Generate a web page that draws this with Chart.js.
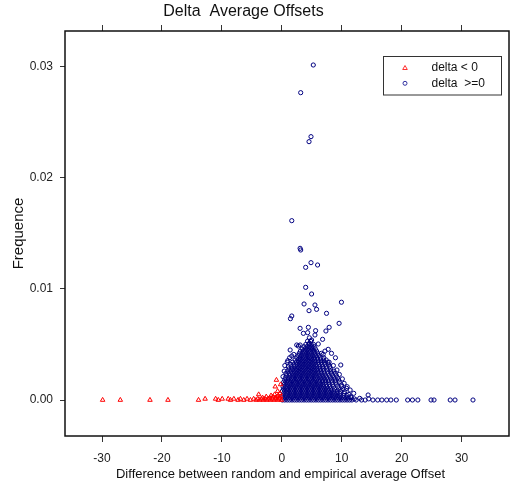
<!DOCTYPE html>
<html>
<head>
<meta charset="utf-8">
<script src="https://cdn.jsdelivr.net/npm/chart.js@4/dist/chart.umd.min.js"></script>
<style>
  html, body { margin: 0; padding: 0; background: #fff; }
  #grafico { display: block; }
</style>
</head>
<body>
<canvas id="grafico" width="514" height="481"></canvas>
<script>
const FONTE = "'Liberation Sans', Arial, Helvetica, sans-serif";

const ticksX = [-30, -20, -10, 0, 10, 20, 30];
const ticksY = [0, 0.01, 0.02, 0.03];

const titulo = "Delta  Average Offsets";
const tituloX = "Difference between random and empirical average Offset";
const tituloY = "Frequence";
const rotulos = ["delta < 0", "delta  >=0"];

// delta < 0 (triangulos vermelhos)
const pontosNegativos = [
  [-29.9, 0], [-26.95, 0], [-22.0, 0], [-19.0, 0], [-13.9, 0], [-12.8, 0.0001],
  [-11.05, 0.0001], [-10.6, 0], [-9.95, 0.0001], [-8.95, 0.0001], [-8.56, 0], [-8.0, 0.0001],
  [-7.3, 0], [-6.9, 0.0001], [-6.35, 0], [-5.8, 0.0001], [-5.24, 0], [-4.7, 0.0001],
  [-4.3, 0], [-4.0, 0.0001], [-3.7, 0], [-3.4, 0.0001], [-3.1, 0], [-2.8, 0.0001],
  [-2.5, 0], [-2.2, 0.0001], [-1.9, 0], [-1.6, 0.0001], [-1.3, 0], [-1.0, 0.0001],
  [-0.7, 0], [-0.4, 0.0001], [-0.1, 0],
  [-3.2, 0.0002], [-2.6, 0.0003], [-2.0, 0.0002], [-1.5, 0.0003], [-1.1, 0.0002],
  [-0.8, 0.0003], [-0.5, 0.0002], [-0.2, 0.0003],
  [-1.8, 0.0004], [-1.2, 0.0005], [-0.6, 0.0004], [-0.3, 0.0006],
  [-3.86, 0.0005], [-0.7, 0.0008], [-1.1, 0.0012], [-0.9, 0.0018], [-0.2, 0.0014]
];

// delta >= 0 (circulos azuis)
const pontosPositivos = [
  [0.1, 0], [0.5, 0], [0.9, 0], [1.3, 0], [1.7, 0], [2.1, 0], [2.5, 0], [2.9, 0], [3.3, 0], [3.7, 0],
  [4.1, 0], [4.5, 0], [4.9, 0], [5.3, 0], [5.7, 0], [6.1, 0], [6.5, 0], [6.9, 0], [7.3, 0], [7.7, 0],
  [8.1, 0], [8.5, 0], [8.9, 0], [9.3, 0], [9.7, 0], [10.1, 0], [10.5, 0], [10.9, 0], [11.3, 0], [11.7, 0],

  [0.3, 0.0002], [0.7, 0.0002], [1.1, 0.0002], [1.5, 0.0002], [1.9, 0.0002], [2.3, 0.0002], [2.7, 0.0002],
  [3.1, 0.0002], [3.5, 0.0002], [3.9, 0.0002], [4.3, 0.0002], [4.7, 0.0002], [5.1, 0.0002], [5.5, 0.0002],
  [5.9, 0.0002], [6.3, 0.0002], [6.7, 0.0002], [7.1, 0.0002], [7.5, 0.0002], [7.9, 0.0002], [8.3, 0.0002],
  [8.7, 0.0002], [9.1, 0.0002], [9.5, 0.0002], [9.9, 0.0002], [10.3, 0.0002], [10.7, 0.0002], [11.1, 0.0002],
  [11.6, 0.0002], [12.1, 0.0001],

  [0.1, 0.0004], [0.6, 0.0004], [1.0, 0.0004], [1.4, 0.0004], [1.8, 0.0004], [2.2, 0.0004], [2.6, 0.0004],
  [3.0, 0.0004], [3.4, 0.0004], [3.8, 0.0004], [4.2, 0.0004], [4.6, 0.0004], [5.0, 0.0004], [5.4, 0.0004],
  [5.8, 0.0004], [6.2, 0.0004], [6.6, 0.0004], [7.0, 0.0004], [7.4, 0.0004], [7.8, 0.0004], [8.2, 0.0004],
  [8.6, 0.0004], [9.0, 0.0004], [9.4, 0.0004], [9.8, 0.0004], [10.3, 0.0004], [10.9, 0.0004], [11.5, 0.0003],

  [0.3, 0.0006], [0.8, 0.0006], [1.2, 0.0006], [1.6, 0.0006], [2.0, 0.0006], [2.4, 0.0006], [2.8, 0.0006],
  [3.2, 0.0006], [3.6, 0.0006], [4.0, 0.0006], [4.4, 0.0006], [4.8, 0.0006], [5.2, 0.0006], [5.6, 0.0006],
  [6.0, 0.0006], [6.4, 0.0006], [6.8, 0.0006], [7.2, 0.0006], [7.6, 0.0006], [8.0, 0.0006], [8.4, 0.0006],
  [8.8, 0.0006], [9.2, 0.0006], [9.7, 0.0006], [10.4, 0.0006], [11.2, 0.0005],

  [0.1, 0.0008], [0.5, 0.0008], [1.0, 0.0008], [1.4, 0.0008], [1.8, 0.0008], [2.2, 0.0008], [2.6, 0.0008],
  [3.0, 0.0008], [3.4, 0.0008], [3.8, 0.0008], [4.2, 0.0008], [4.6, 0.0008], [5.0, 0.0008], [5.4, 0.0008],
  [5.8, 0.0008], [6.2, 0.0008], [6.6, 0.0008], [7.0, 0.0008], [7.4, 0.0008], [7.8, 0.0008], [8.2, 0.0008],
  [8.7, 0.0008], [9.2, 0.0008], [9.8, 0.0008], [10.5, 0.00075],

  [0.3, 0.001], [0.8, 0.001], [1.2, 0.001], [1.6, 0.001], [2.0, 0.001], [2.4, 0.001], [2.8, 0.001],
  [3.2, 0.001], [3.6, 0.001], [4.0, 0.001], [4.4, 0.001], [4.8, 0.001], [5.2, 0.001], [5.6, 0.001],
  [6.0, 0.001], [6.4, 0.001], [6.8, 0.001], [7.2, 0.001], [7.7, 0.001], [8.2, 0.001], [8.8, 0.001],
  [9.5, 0.001], [10.2, 0.001], [10.8, 0.00105],

  [0.2, 0.0012], [0.6, 0.0012], [1.0, 0.0012], [1.4, 0.0012], [1.8, 0.0012], [2.2, 0.0012], [2.6, 0.0012],
  [3.0, 0.0012], [3.4, 0.0012], [3.8, 0.0012], [4.2, 0.0012], [4.6, 0.0012], [5.0, 0.0012], [5.4, 0.0012],
  [5.8, 0.0012], [6.2, 0.0012], [6.6, 0.0012], [7.0, 0.0012], [7.5, 0.0012], [8.0, 0.0012], [8.6, 0.0012],
  [9.3, 0.0012], [10.0, 0.0012],

  [0.4, 0.0014], [0.9, 0.0014], [1.3, 0.0014], [1.7, 0.0014], [2.1, 0.0014], [2.5, 0.0014], [2.9, 0.0014],
  [3.3, 0.0014], [3.7, 0.0014], [4.1, 0.0014], [4.5, 0.0014], [4.9, 0.0014], [5.3, 0.0014], [5.7, 0.0014],
  [6.1, 0.0014], [6.5, 0.0014], [6.9, 0.0014], [7.4, 0.0014], [7.9, 0.0014], [8.5, 0.0014], [9.1, 0.0014],
  [9.95, 0.00135],

  [0.3, 0.0016], [0.7, 0.0016], [1.1, 0.0016], [1.5, 0.0016], [1.9, 0.0016], [2.3, 0.0016], [2.7, 0.0016],
  [3.1, 0.0016], [3.5, 0.0016], [3.9, 0.0016], [4.3, 0.0016], [4.7, 0.0016], [5.1, 0.0016], [5.5, 0.0016],
  [5.9, 0.0016], [6.3, 0.0016], [6.8, 0.0016], [7.3, 0.0016], [7.8, 0.0016], [8.4, 0.0016], [9.0, 0.0016],
  [9.6, 0.0016],

  [0.5, 0.0018], [1.0, 0.0018], [1.4, 0.0018], [1.8, 0.0018], [2.2, 0.0018], [2.6, 0.0018], [3.0, 0.0018],
  [3.4, 0.0018], [3.8, 0.0018], [4.2, 0.0018], [4.6, 0.0018], [5.0, 0.0018], [5.4, 0.0018], [5.8, 0.0018],
  [6.2, 0.0018], [6.7, 0.0018], [7.2, 0.0018], [7.7, 0.0018], [8.3, 0.0018], [8.9, 0.0018], [9.5, 0.0018],

  [0.6, 0.002], [1.1, 0.002], [1.6, 0.002], [2.0, 0.002], [2.4, 0.002], [2.8, 0.002], [3.2, 0.002],
  [3.6, 0.002], [4.0, 0.002], [4.4, 0.002], [4.8, 0.002], [5.2, 0.002], [5.6, 0.002], [6.0, 0.002],
  [6.5, 0.002], [7.0, 0.002], [7.5, 0.002], [8.1, 0.002], [8.7, 0.002], [9.3, 0.002],

  [0.8, 0.0022], [1.3, 0.0022], [1.8, 0.0022], [2.2, 0.0022], [2.6, 0.0022], [3.0, 0.0022], [3.4, 0.0022],
  [3.8, 0.0022], [4.2, 0.0022], [4.6, 0.0022], [5.0, 0.0022], [5.4, 0.0022], [5.8, 0.0022], [6.3, 0.0022],
  [6.8, 0.0022], [7.3, 0.0022], [7.9, 0.0022], [8.5, 0.0022], [9.1, 0.0022],

  [0.7, 0.0024], [1.2, 0.0024], [1.7, 0.0024], [2.1, 0.0024], [2.5, 0.0024], [2.9, 0.0024], [3.3, 0.0024],
  [3.7, 0.0024], [4.1, 0.0024], [4.5, 0.0024], [4.9, 0.0024], [5.3, 0.0024], [5.7, 0.0024], [6.1, 0.0024],
  [6.6, 0.0024], [7.1, 0.0024], [7.7, 0.0024], [8.3, 0.0024], [8.9, 0.0024],

  [1.0, 0.0026], [1.5, 0.0026], [2.0, 0.0026], [2.4, 0.0026], [2.8, 0.0026], [3.2, 0.0026], [3.6, 0.0026],
  [4.0, 0.0026], [4.4, 0.0026], [4.8, 0.0026], [5.2, 0.0026], [5.6, 0.0026], [6.0, 0.0026], [6.5, 0.0026],
  [7.0, 0.0026], [7.6, 0.0026], [8.2, 0.0026], [8.7, 0.0026],

  [1.2, 0.0028], [1.8, 0.0028], [2.3, 0.0028], [2.7, 0.0028], [3.1, 0.0028], [3.5, 0.0028], [3.9, 0.0028],
  [4.3, 0.0028], [4.7, 0.0028], [5.1, 0.0028], [5.5, 0.0028], [5.9, 0.0028], [6.4, 0.0028], [6.9, 0.0028],
  [7.5, 0.0028], [8.1, 0.0028],

  [1.1, 0.003], [1.6, 0.003], [2.1, 0.003], [2.6, 0.003], [3.0, 0.003], [3.4, 0.003], [3.8, 0.003],
  [4.2, 0.003], [4.6, 0.003], [5.0, 0.003], [5.4, 0.003], [5.8, 0.003], [6.3, 0.003], [6.8, 0.003],
  [7.4, 0.003], [8.0, 0.003],

  [1.5, 0.0032], [2.0, 0.0032], [2.5, 0.0032], [2.9, 0.0032], [3.3, 0.0032], [3.7, 0.0032], [4.1, 0.0032],
  [4.5, 0.0032], [4.9, 0.0032], [5.3, 0.0032], [5.7, 0.0032], [6.2, 0.0032], [6.7, 0.0032], [7.2, 0.0032],
  [7.8, 0.0032],

  [1.8, 0.0034], [2.4, 0.0034], [2.8, 0.0034], [3.2, 0.0034], [3.6, 0.0034], [4.0, 0.0034], [4.4, 0.0034],
  [4.8, 0.0034], [5.2, 0.0034], [5.6, 0.0034], [6.1, 0.0034], [6.6, 0.0034], [7.1, 0.0034], [7.7, 0.0034],

  [2.2, 0.0036], [2.7, 0.0036], [3.1, 0.0036], [3.5, 0.0036], [3.9, 0.0036], [4.3, 0.0036], [4.7, 0.0036],
  [5.1, 0.0036], [5.5, 0.0036], [6.0, 0.0036], [6.5, 0.0036], [7.0, 0.0036],

  [2.5, 0.0038], [3.0, 0.0038], [3.4, 0.0038], [3.8, 0.0038], [4.2, 0.0038], [4.6, 0.0038], [5.0, 0.0038],
  [5.4, 0.0038], [5.9, 0.0038], [6.4, 0.0038], [7.0, 0.0038],

  [2.7, 0.004], [3.2, 0.004], [3.6, 0.004], [4.0, 0.004], [4.4, 0.004], [4.8, 0.004], [5.2, 0.004],
  [5.7, 0.004], [6.2, 0.004],
  [2.9, 0.0042], [3.4, 0.0042], [3.8, 0.0042], [4.2, 0.0042], [4.6, 0.0042], [5.0, 0.0042], [5.5, 0.0042],
  [6.0, 0.0042], [6.6, 0.0042],
  [3.1, 0.0044], [3.6, 0.0044], [4.0, 0.0044], [4.4, 0.0044], [4.8, 0.0044], [5.3, 0.0044], [5.8, 0.0044],
  [3.4, 0.0046], [3.9, 0.0046], [4.3, 0.0046], [4.7, 0.0046], [5.1, 0.0046], [5.6, 0.0046],
  [3.7, 0.0048], [4.2, 0.0048], [4.6, 0.0048], [5.0, 0.0048], [5.4, 0.0048],
  [4.0, 0.005], [4.5, 0.005], [4.9, 0.005], [5.3, 0.005],
  [4.3, 0.0053], [4.8, 0.0053], [4.6, 0.0056],

  // bordas irregulares do nucleo
  [0.2, 0.0021], [0.4, 0.0026], [0.5, 0.0031], [0.9, 0.0034], [1.3, 0.0038], [2.0, 0.0041],
  [8.6, 0.0031], [9.2, 0.0027], [9.6, 0.0023], [10.1, 0.0019], [10.4, 0.0015], [10.9, 0.0012],
  [11.4, 0.0009], [12.0, 0.0006], [7.4, 0.0036], [7.9, 0.0034], [6.9, 0.0041], [7.2, 0.0044],

  // pontos isolados acima do nucleo
  [1.66, 0.01614], [3.05, 0.01365], [3.15, 0.0135], [3.98, 0.01194], [4.87, 0.01236], [5.97, 0.01215],
  [3.98, 0.01014], [4.97, 0.00954], [9.95, 0.0088], [3.71, 0.00864], [5.53, 0.00855], [5.8, 0.00816],
  [4.54, 0.00804], [7.46, 0.0078], [1.66, 0.00756], [1.44, 0.00732], [9.56, 0.0069], [3.05, 0.00645],
  [4.43, 0.00654], [7.9, 0.00654], [4.31, 0.00606], [5.64, 0.00624], [7.36, 0.00621], [3.6, 0.006],
  [5.53, 0.00585], [6.8, 0.00546], [4.97, 0.0054], [3.05, 0.00495], [6.08, 0.00504], [4.59, 0.0051],
  [2.77, 0.00486], [2.49, 0.00495], [1.39, 0.0045], [7.74, 0.00456], [8.29, 0.0042], [8.95, 0.0038],
  [9.84, 0.00315], [1.0, 0.00354], [1.66, 0.00396],
  [5.25, 0.03015], [3.15, 0.02766], [4.87, 0.0237], [4.54, 0.02325],

  // cauda direita
  [12.4, 0], [13.0, 0.00015], [13.3, 0], [13.9, 0], [14.4, 0.00045], [14.5, 0.0001], [15.2, 0],
  [16.0, 0], [16.7, 0], [17.5, 0], [18.2, 0], [19.1, 0], [21.0, 0], [21.8, 0], [22.7, 0],
  [24.9, 0], [25.4, 0], [28.1, 0], [28.9, 0], [31.9, 0]
];

const legendaCaixa = {
  id: "legendaCaixa",
  afterDraw(chart) {
    const ctx = chart.ctx;
    const area = chart.chartArea;
    ctx.save();

    // moldura do grafico
    ctx.strokeStyle = "#111";
    ctx.lineWidth = 1.5;
    ctx.strokeRect(area.left, area.top, area.right - area.left, area.bottom - area.top);

    // titulo principal
    ctx.fillStyle = "#111";
    ctx.font = "16px " + FONTE;
    ctx.textAlign = "center";
    ctx.textBaseline = "middle";
    ctx.fillText(titulo, 243.5, 12);

    // titulo do eixo x
    ctx.font = "13px " + FONTE;
    ctx.fillText(tituloX, 280.5, 474);

    // legenda
    ctx.lineWidth = 1;
    ctx.strokeStyle = "#333";
    ctx.strokeRect(383.5, 56.5, 118, 38.5);

    ctx.strokeStyle = "#ff3030";
    ctx.beginPath();
    ctx.moveTo(405, 65.5);
    ctx.lineTo(407.3, 69.5);
    ctx.lineTo(402.7, 69.5);
    ctx.closePath();
    ctx.stroke();

    ctx.strokeStyle = "#3030a0";
    ctx.beginPath();
    ctx.arc(405, 83.3, 2, 0, Math.PI * 2);
    ctx.stroke();

    ctx.fillStyle = "#111";
    ctx.font = "12px " + FONTE;
    ctx.textAlign = "left";
    ctx.fillText(rotulos[0], 431.5, 68);
    ctx.fillText(rotulos[1], 431.5, 83.5);

    ctx.restore();
  }
};

function fixarTicks(lista) {
  return scale => { scale.ticks = lista.map(v => ({ value: v })); };
}

const gradeTicks = { drawOnChartArea: false, drawTicks: true, tickLength: 6, color: "#333", lineWidth: 1 };

new Chart(document.getElementById("grafico"), {
  type: "scatter",
  data: {
    datasets: [
      {
        label: rotulos[0],
        data: pontosNegativos.map(([x, y]) => ({ x, y })),
        pointStyle: "triangle",
        pointRadius: 2.6,
        borderWidth: 1,
        borderColor: "#ff0000",
        backgroundColor: "rgba(0,0,0,0)"
      },
      {
        label: rotulos[1],
        data: pontosPositivos.map(([x, y]) => ({ x, y })),
        pointStyle: "circle",
        pointRadius: 2.1,
        borderWidth: 1,
        borderColor: "#000080",
        backgroundColor: "rgba(0,0,0,0)"
      }
    ]
  },
  options: {
    responsive: false,
    animation: false,
    layout: { padding: { right: 2, left: 0, top: 0, bottom: 0 } },
    plugins: {
      legend: { display: false },
      tooltip: { enabled: false }
    },
    scales: {
      x: {
        type: "linear",
        position: "bottom",
        min: -36.18,
        max: 37.91,
        afterBuildTicks: fixarTicks(ticksX),
        afterFit: s => { s.height = 45; },
        grid: gradeTicks,
        border: { display: false },
        ticks: { font: { family: FONTE, size: 12 }, color: "#222", padding: 9, maxRotation: 0 }
      },
      xTopo: {
        type: "linear",
        axis: "x",
        position: "top",
        min: -36.18,
        max: 37.91,
        afterBuildTicks: fixarTicks(ticksX),
        afterFit: s => { s.height = 31; },
        grid: gradeTicks,
        border: { display: false },
        ticks: { display: false }
      },
      y: {
        type: "linear",
        position: "left",
        min: -0.00324,
        max: 0.03321,
        afterBuildTicks: fixarTicks(ticksY),
        afterFit: s => { s.width = 65; },
        grid: { ...gradeTicks, tickLength: 5 },
        border: { display: false },
        ticks: {
          font: { family: FONTE, size: 12 },
          color: "#222",
          padding: 7,
          callback: v => v.toFixed(2)
        },
        title: {
          display: true,
          text: tituloY,
          font: { family: FONTE, size: 15 },
          color: "#111",
          padding: { top: 10, bottom: 0 }
        }
      }
    }
  },
  plugins: [legendaCaixa]
});
</script>
</body>
</html>
